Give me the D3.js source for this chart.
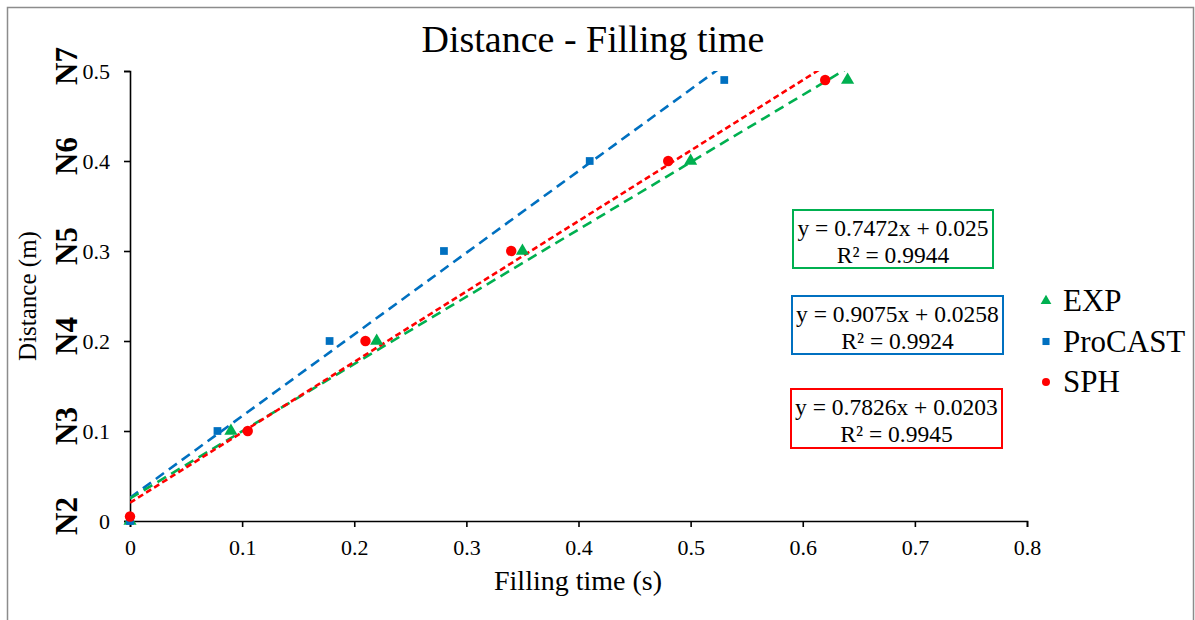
<!DOCTYPE html>
<html>
<head>
<meta charset="utf-8">
<script src="https://cdn.jsdelivr.net/npm/d3@7"></script>
<style>
  body { margin: 0; background: #fff; }
  svg text { font-family: "Liberation Serif", "Times New Roman", serif; fill: #000; }
</style>
</head>
<body>
<div id="chart"></div>
<script>
// Data
const expX = [0, 0.09, 0.22, 0.35, 0.50, 0.64];
const expY = [0, 0.10, 0.20, 0.30, 0.40, 0.49];
const proX = [0, 0.078, 0.178, 0.28, 0.41, 0.53];
const proY = [0, 0.10, 0.20, 0.30, 0.40, 0.49];
const sphX = [0, 0.105, 0.21, 0.34, 0.48, 0.62];
const sphY = [0.005, 0.10, 0.20, 0.30, 0.40, 0.49];

// Trendline coefficients (slope, intercept) and R² as printed
const trendSlopes = [0.7472, 0.9075, 0.7826];
const trendIntercepts = [0.025, 0.0258, 0.0203];
const trendR2 = ["0.9944", "0.9924", "0.9945"];
const trendLabels = ["y = 0.7472x + 0.025", "y = 0.9075x + 0.0258", "y = 0.7826x + 0.0203"];

const seriesNames = ["EXP", "ProCAST", "SPH"];
const xTicks = [0, 0.1, 0.2, 0.3, 0.4, 0.5, 0.6, 0.7, 0.8];
const yTicks = [0, 0.1, 0.2, 0.3, 0.4, 0.5];
const nodeLabels = ["N2", "N3", "N4", "N5", "N6", "N7"];

const colors = ["#00B050", "#0070C0", "#FF0000"];
const symbols = [d3.symbolTriangle, d3.symbolSquare, d3.symbolCircle];

const W = 1195, H = 620;
const plot = {left: 130, right: 1027, top: 71, bottom: 521};
const serif = "Liberation Serif, Times New Roman, serif";

const svg = d3.select("#chart").append("svg")
    .attr("width", W).attr("height", H);

// outer frame
svg.append("rect")
    .attr("x", 7.5).attr("y", 7.5)
    .attr("width", 1186).attr("height", 640)
    .attr("fill", "none").attr("stroke", "#8c8c8c").attr("stroke-width", 1.5);

const x = d3.scaleLinear().domain([0, 0.8]).range([plot.left, plot.right]);
const y = d3.scaleLinear().domain([0, 0.5]).range([plot.bottom, plot.top]);

svg.append("defs").append("clipPath").attr("id", "clip")
  .append("rect")
    .attr("x", plot.left).attr("y", plot.top)
    .attr("width", plot.right - plot.left).attr("height", plot.bottom - plot.top);

// title
svg.append("text")
    .attr("x", 593).attr("y", 52)
    .attr("text-anchor", "middle")
    .style("font-size", "38px")
    .text("Distance - Filling time");

// axes
const fmt = d => d === 0 ? "0" : d3.format(".1f")(d);
const xAxis = svg.append("g")
    .attr("transform", "translate(0," + plot.bottom + ")")
    .call(d3.axisBottom(x).tickValues(xTicks).tickSize(6).tickPadding(12).tickFormat(fmt));
const yAxis = svg.append("g")
    .attr("transform", "translate(" + plot.left + ",0)")
    .call(d3.axisLeft(y).tickValues(yTicks).tickSize(6).tickPadding(14).tickFormat(fmt));

[xAxis, yAxis].forEach(a => {
    a.attr("font-family", serif).attr("font-size", 22);
    a.select(".domain").attr("stroke", "#000").attr("stroke-width", 1.6);
    a.selectAll(".tick line").attr("stroke", "#000").attr("stroke-width", 1.6);
    a.selectAll(".tick text")
        .attr("font-family", serif)
        .attr("font-size", 22)
        .attr("fill", "#000");
});

// axis titles
svg.append("text")
    .attr("x", 578).attr("y", 590)
    .attr("text-anchor", "middle")
    .style("font-size", "28px")
    .text("Filling time (s)");
svg.append("text")
    .attr("transform", "translate(36,296) rotate(-90)")
    .attr("text-anchor", "middle")
    .style("font-size", "25px")
    .text("Distance (m)");

// node labels beside the y ticks
svg.append("g").selectAll("text")
    .data(yTicks)
    .enter().append("text")
    .attr("transform", d => "translate(77," + (y(d) - 5) + ") rotate(-90)")
    .attr("text-anchor", "middle")
    .style("font-size", "31px")
    .style("font-weight", "bold")
    .text((d, i) => nodeLabels[i]);

// trendlines (clipped to the plot area)
const allX = [expX, proX, sphX];
const allY = [expY, proY, sphY];
const dashes = ["10,6", "10,6", "6,3.5"];
const trendG = svg.append("g").attr("clip-path", "url(#clip)");
const line = d3.line().x(d => x(d[0])).y(d => y(d[1]));
[1, 0, 2].forEach(i => {
    const x1 = d3.max(allX[i]);
    const pts = [[0, trendIntercepts[i]], [x1, trendSlopes[i] * x1 + trendIntercepts[i]]];
    trendG.append("path")
        .attr("d", line(pts))
        .attr("fill", "none")
        .attr("stroke", colors[i])
        .attr("stroke-width", 2.6)
        .attr("stroke-dasharray", dashes[i]);
});

// markers
const symSizes = [75, 60, 85];
[0, 1, 2].forEach(i => {
    svg.append("g").selectAll("path")
        .data(allX[i].map((v, j) => [v, allY[i][j]]))
        .enter().append("path")
        .attr("d", d3.symbol().type(symbols[i]).size(symSizes[i]))
        .attr("transform", d => "translate(" + x(d[0]) + "," + y(d[1]) + ")")
        .attr("fill", colors[i]);
});

// equation boxes
const boxes = [
    {x: 793, y: 210, w: 200, h: 58},
    {x: 792, y: 296, w: 211, h: 58},
    {x: 791, y: 389, w: 211, h: 59}
];
boxes.forEach((b, i) => {
    svg.append("rect")
        .attr("x", b.x).attr("y", b.y).attr("width", b.w).attr("height", b.h)
        .attr("fill", "#fff").attr("stroke", colors[i]).attr("stroke-width", 2);
    svg.append("text")
        .attr("x", b.x + b.w / 2).attr("y", b.y + 26)
        .attr("text-anchor", "middle").style("font-size", "23.5px")
        .text(trendLabels[i]);
    svg.append("text")
        .attr("x", b.x + b.w / 2).attr("y", b.y + 53)
        .attr("text-anchor", "middle").style("font-size", "23.5px")
        .text("R² = " + trendR2[i]);
});

// legend
const legend = svg.append("g").selectAll("g")
    .data(seriesNames)
    .enter().append("g")
    .attr("transform", (d, i) => "translate(1046," + (301 + i * 40.5) + ")");
legend.append("path")
    .attr("d", (d, i) => d3.symbol().type(symbols[i]).size(50)())
    .attr("fill", (d, i) => colors[i]);
legend.append("text")
    .attr("x", 17).attr("y", 10)
    .style("font-size", "31px")
    .text(d => d);
</script>
</body>
</html>
